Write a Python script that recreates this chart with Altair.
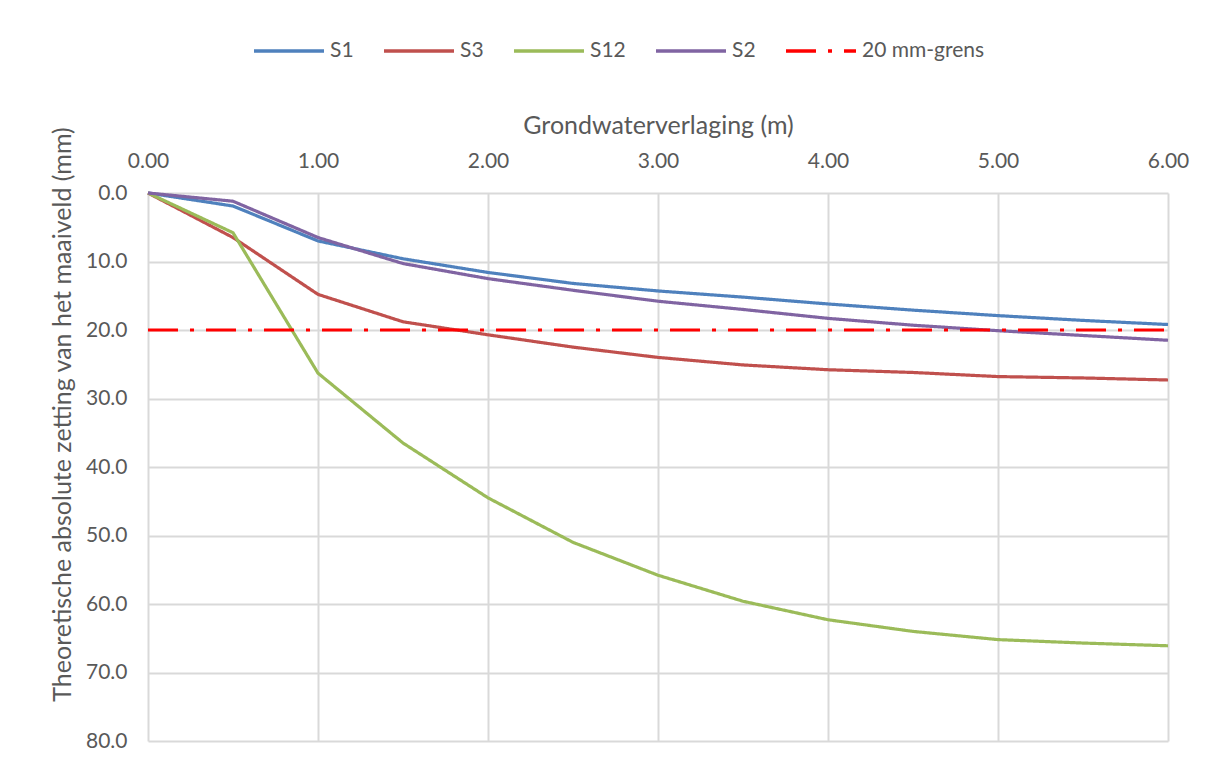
import altair as alt
import pandas as pd

x_vals = [0.0, 0.5, 1.0, 1.5, 2.0, 2.5, 3.0, 3.5, 4.0, 4.5, 5.0, 5.5, 6.0]
s1 = [0.0, 1.9, 7.0, 9.6, 11.6, 13.2, 14.3, 15.2, 16.2, 17.1, 17.9, 18.6, 19.2]
s3 = [0.0, 6.5, 14.8, 18.8, 20.7, 22.5, 24.0, 25.1, 25.8, 26.2, 26.8, 27.0, 27.3]
s12 = [0.0, 5.8, 26.3, 36.5, 44.5, 51.0, 55.8, 59.6, 62.3, 64.0, 65.2, 65.7, 66.1]
s2 = [0.0, 1.2, 6.5, 10.3, 12.5, 14.2, 15.8, 17.0, 18.3, 19.3, 20.1, 20.8, 21.5]
limit_x = [0.0, 6.0]
limit_y = [20.0, 20.0]

series_names = ["S1", "S3", "S12", "S2", "20 mm-grens"]
series_colors = ["#4f81bd", "#c0504d", "#9bbb59", "#8064a2", "#ff0000"]
series_dashes = [[1, 0], [1, 0], [1, 0], [1, 0], [30, 12, 4, 12]]

rows = []
for name, ys in zip(series_names[:4], [s1, s3, s12, s2]):
    for i, (x, y) in enumerate(zip(x_vals, ys)):
        rows.append({"x": x, "y": y, "serie": name, "ord": i})
for i, (x, y) in enumerate(zip(limit_x, limit_y)):
    rows.append({"x": x, "y": y, "serie": series_names[4], "ord": i})
df = pd.DataFrame(rows)

FONT = "Lato"
TXT = "#595959"

chart = alt.Chart(df).mark_line(strokeWidth=3.2).encode(
    x=alt.X("x:Q",
            scale=alt.Scale(domain=[0, 6], nice=False),
            axis=alt.Axis(orient="top", values=[0, 1, 2, 3, 4, 5, 6], format=".2f",
                          title="Grondwaterverlaging (m)", titlePadding=12,
                          labelPadding=22, labelFlush=False, ticks=False, domain=False)),
    y=alt.Y("y:Q",
            scale=alt.Scale(domain=[0, 80], reverse=True, nice=False),
            axis=alt.Axis(values=[0, 10, 20, 30, 40, 50, 60, 70, 80], format=".1f",
                          title="Theoretische absolute zetting van het maaiveld (mm)",
                          titleX=-78, titleY=221, titleAlign="center",
                          titleBaseline="alphabetic", titleAngle=270,
                          labelPadding=21, labelFlush=False, ticks=False, domain=False)),
    color=alt.Color("serie:N",
                    scale=alt.Scale(domain=series_names, range=series_colors),
                    sort=series_names,
                    legend=alt.Legend(title=None, orient="none", direction="horizontal",
                                      legendX=104, legendY=-179,
                                      symbolType="stroke", symbolSize=4900,
                                      symbolStrokeWidth=3.5, columnPadding=23,
                                      labelOffset=4,
                                      labelFontSize=21, labelColor=TXT, labelFont=FONT)),
    strokeDash=alt.StrokeDash("serie:N",
                              scale=alt.Scale(domain=series_names, range=series_dashes),
                              sort=series_names, legend=None),
    order="ord:Q",
).properties(
    width=1020, height=548,
    autosize=alt.AutoSizeParams(type="none"),
    padding={"left": 140, "top": 185, "right": 30, "bottom": 10},
).configure_view(stroke=None).configure_axis(
    grid=True, gridColor="#d9d9d9", gridWidth=2,
    labelFont=FONT, labelFontSize=21, labelColor=TXT,
    titleFont=FONT, titleFontSize=25, titleColor=TXT, titleFontWeight="normal",
)

chart.save("out.html", embed_options={"renderer": "svg", "actions": False})
